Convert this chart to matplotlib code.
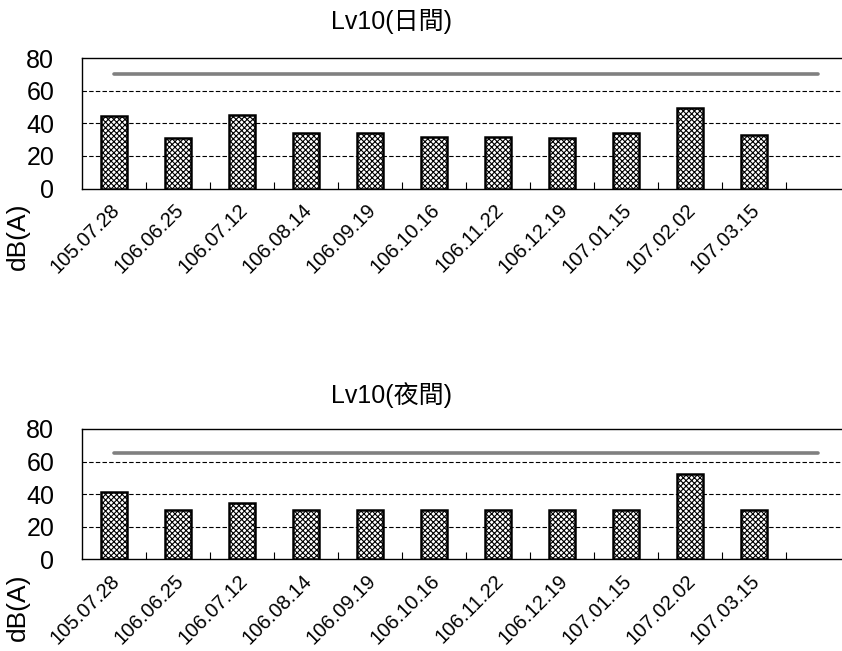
import matplotlib
matplotlib.use("Agg")
import matplotlib.pyplot as plt
import numpy as np

plt.rcParams['font.family'] = ['Liberation Sans', 'Noto Sans CJK TC', 'DejaVu Sans']
plt.rcParams['hatch.linewidth'] = 0.8

dates = ["105.07.28", "106.06.25", "106.07.12", "106.08.14", "106.09.19",
         "106.10.16", "106.11.22", "106.12.19", "107.01.15", "107.02.02",
         "107.03.15", ""]
day_values = [44.6, 31.3, 45.0, 34.0, 34.0, 31.5, 31.9, 31.3, 34.0, 49.5, 33.1]
night_values = [41.5, 30.1, 34.6, 30.0, 30.0, 30.0, 30.0, 30.0, 30.0, 52.4, 30.0]
day_limit = 70
night_limit = 65
titles = ["Lv10(日間)", "Lv10(夜間)"]
ylabel = "dB(A)"
yticks = [0, 20, 40, 60, 80]

fig = plt.figure(figsize=(8.42, 6.51), dpi=100)

def draw(ax, values, limit):
    n = len(dates)
    x = np.arange(n)
    ax.bar(x[:len(values)], values, width=0.4, facecolor='white',
           edgecolor='black', linewidth=1.8, hatch='xxxxxx', zorder=3)
    ax.plot(x, [limit] * n, color='#808080', linewidth=2.6,
            solid_capstyle='round', zorder=4)
    ax.set_xlim(-0.5, n - 0.5)
    ax.set_ylim(0, 80)
    ax.set_yticks(yticks)
    for y in yticks[1:-1]:
        ax.axhline(y, color='black', linestyle=(0, (4, 2)), linewidth=0.8, zorder=1)
    ax.tick_params(axis='y', length=0, pad=20, labelsize=18)
    ax.set_xticks(x)
    ax.set_xticklabels([])
    ax.tick_params(axis='x', which='major', length=0)
    for xi, lab in zip(x, dates):
        ax.annotate(lab, xy=(xi, 0), xycoords=('data', 'axes fraction'),
                    xytext=(-2.9, -8.5), textcoords='offset points',
                    rotation=45, ha='right', va='top', rotation_mode='anchor',
                    fontsize=14.5, annotation_clip=False)
    ax.set_xticks(np.arange(0.5, n, 1.0), minor=True)
    ax.tick_params(axis='x', which='minor', direction='in', length=5, width=0.8)
    for s in ['left', 'bottom', 'top']:
        ax.spines[s].set_linewidth(1.0)
        ax.spines[s].set_color('black')
    ax.spines['right'].set_visible(False)

ax1 = fig.add_axes([82/842, 1 - 188.5/651, 768/842, 130.3/651])
draw(ax1, day_values, day_limit)
ax2 = fig.add_axes([82/842, 1 - 559.3/651, 768/842, 130.3/651])
draw(ax2, night_values, night_limit)

fig.text(391.5/842, 1 - 22/651, titles[0], ha='center', va='center', fontsize=18)
fig.text(391.5/842, 1 - 395/651, titles[1], ha='center', va='center', fontsize=18)
fig.text(18/842, 1 - 236.5/651, ylabel, rotation=90, ha='center', va='center', fontsize=19)
fig.text(18/842, 1 - 607/651, ylabel, rotation=90, ha='center', va='center', fontsize=19)

fig.savefig("out.png", dpi=100)
